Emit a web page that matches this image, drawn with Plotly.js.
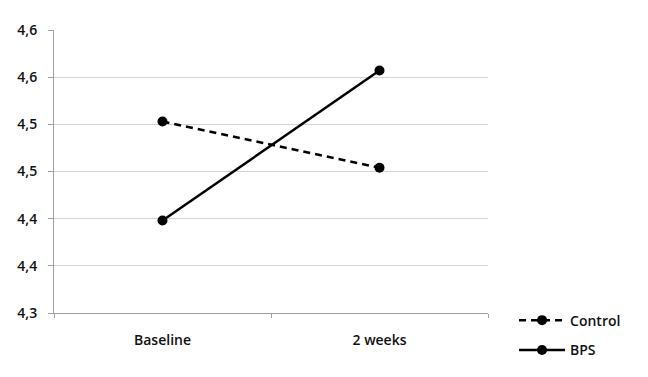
<!DOCTYPE html>
<html><head><meta charset="utf-8">
<script src="https://cdn.plot.ly/plotly-3.0.1.min.js"></script>
<style>html,body{margin:0;padding:0;background:#fff}</style>
</head><body>
<div id="chart" style="width:648px;height:377px"></div>
<script>
var categories = ["Baseline", "2 weeks"];
var controlValues = [4.503, 4.454];
var bpsValues = [4.398, 4.557];
var yTickValues = [4.30, 4.35, 4.40, 4.45, 4.50, 4.55, 4.60];
var yTickLabels = ["4,3", "4,4", "4,4", "4,5", "4,5", "4,6", "4,6"];

var font = {family: "Open Sans, Lato, sans-serif", size: 14, color: "#111", weight: 600};

var traces = [
  {x: categories, y: controlValues, name: "Control", type: "scatter", mode: "lines+markers",
   line: {color: "#000", width: 2.5, dash: "7px,5px"}, marker: {color: "#000", size: 10},
   legend: "legend"},
  {x: categories, y: bpsValues, name: "BPS", type: "scatter", mode: "lines+markers",
   line: {color: "#000", width: 2.5}, marker: {color: "#000", size: 10},
   legend: "legend2"}
];

var layout = {
  width: 648, height: 377,
  margin: {l: 54, r: 160, t: 30, b: 63},
  paper_bgcolor: "#fff", plot_bgcolor: "#fff",
  font: font,
  xaxis: {type: "category", range: [-0.5, 1.5], showgrid: false, showline: true,
          linecolor: "#a0a0a0", linewidth: 1, ticks: "outside", tickson: "boundaries",
          ticklen: 4, tickcolor: "#a0a0a0", zeroline: false, fixedrange: true,
          tickfont: font, ticklabelstandoff: 14},
  yaxis: {range: [4.30, 4.60], tickvals: yTickValues, ticktext: yTickLabels,
          showgrid: true, gridcolor: "#d4d4d4", gridwidth: 1, showline: true,
          linecolor: "#a0a0a0", linewidth: 1, ticks: "outside", ticklen: 5,
          tickcolor: "#a0a0a0", zeroline: false, tickfont: font, ticklabelstandoff: 8},
  showlegend: true,
  legend: {x: 1.06, xanchor: "left", y: -0.023, yanchor: "middle", bgcolor: "rgba(0,0,0,0)",
           font: font, itemwidth: 46},
  legend2: {x: 1.06, xanchor: "left", y: -0.128, yanchor: "middle", bgcolor: "rgba(0,0,0,0)",
            font: font, itemwidth: 46}
};

Plotly.newPlot("chart", traces, layout, {displayModeBar: false, staticPlot: true});
</script>
</body></html>
